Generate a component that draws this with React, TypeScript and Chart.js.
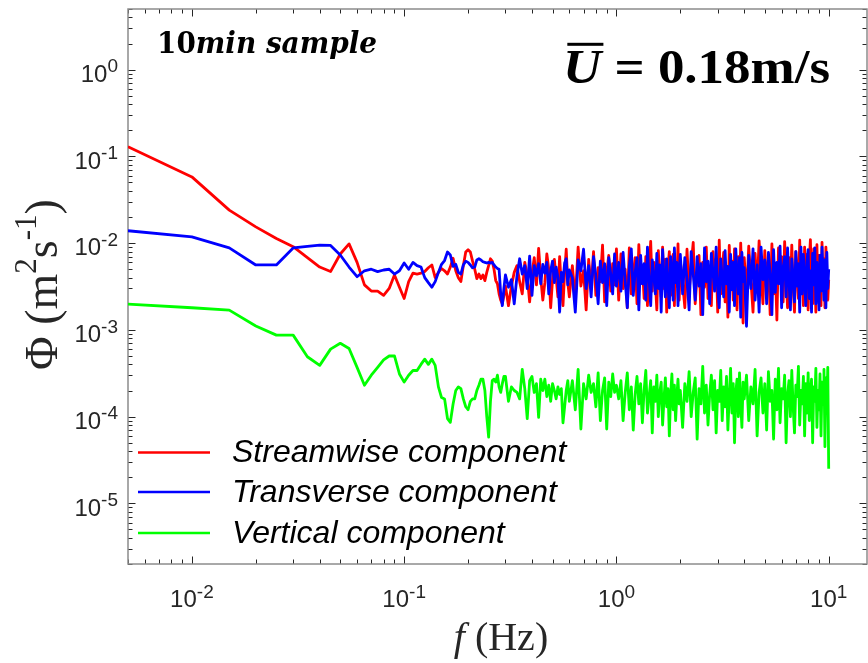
import React, { useEffect, useRef } from "react";
import { Chart, registerables } from "chart.js";

Chart.register(...registerables);

// ---------- frequencies (Hz) ----------
const freqLow = [0.005, 0.01, 0.015, 0.02, 0.025, 0.03, 0.035, 0.04, 0.045, 0.05, 0.055, 0.06, 0.065, 0.07, 0.075, 0.08, 0.085, 0.09, 0.095, 0.1, 0.105, 0.11, 0.115, 0.12, 0.125, 0.13, 0.135, 0.14, 0.145, 0.15, 0.155, 0.16, 0.165, 0.17, 0.175, 0.18, 0.185, 0.19, 0.195, 0.2, 0.205, 0.21, 0.215, 0.22, 0.225, 0.23, 0.235, 0.24, 0.245, 0.25, 0.255, 0.26, 0.265, 0.27, 0.275, 0.28, 0.285, 0.29, 0.295, 0.3];
const freqMid = [0.31, 0.32, 0.33, 0.34, 0.35, 0.36, 0.37, 0.38, 0.39, 0.4, 0.41, 0.42, 0.43, 0.44, 0.45, 0.46, 0.47, 0.48, 0.49, 0.5, 0.51, 0.52, 0.53, 0.54, 0.55, 0.56, 0.57, 0.58, 0.59, 0.6,
  0.62, 0.64, 0.66, 0.68, 0.7, 0.72, 0.74, 0.76, 0.78, 0.8, 0.82, 0.84, 0.86, 0.88, 0.9, 0.92, 0.94, 0.96, 0.98, 1.0];
const freqHigh = [1.025, 1.05, 1.075, 1.1, 1.125, 1.15, 1.175, 1.2, 1.225, 1.25, 1.275, 1.3, 1.325, 1.35, 1.375, 1.4, 1.425, 1.45, 1.475, 1.5, 1.525, 1.55, 1.575, 1.6, 1.625, 1.65, 1.675, 1.7, 1.725, 1.75, 1.775, 1.8, 1.825, 1.85, 1.875, 1.9, 1.925, 1.95, 1.975, 2.0,
  2.05, 2.1, 2.15, 2.2, 2.25, 2.3, 2.35, 2.4, 2.45, 2.5, 2.55, 2.6, 2.65, 2.7, 2.75, 2.8, 2.85, 2.9, 2.95, 3.0, 3.05, 3.1, 3.15, 3.2, 3.25, 3.3, 3.35, 3.4, 3.45, 3.5, 3.55, 3.6, 3.65, 3.7, 3.75, 3.8, 3.85, 3.9, 3.95, 4.0,
  4.1, 4.2, 4.3, 4.4, 4.5, 4.6, 4.7, 4.8, 4.9, 5.0, 5.1, 5.2, 5.3, 5.4, 5.5, 5.6, 5.7, 5.8, 5.9, 6.0, 6.1, 6.2, 6.3, 6.4, 6.5, 6.6, 6.7, 6.8, 6.9, 7.0, 7.1, 7.2, 7.3, 7.4, 7.5, 7.6, 7.7, 7.8, 7.9, 8.0, 8.1, 8.2, 8.3, 8.4, 8.5, 8.6, 8.7, 8.8, 8.9, 9.0, 9.1, 9.2, 9.3, 9.4, 9.5, 9.6, 9.7, 9.8, 9.9, 10.0];

// ---------- Streamwise component (values in 1e-3 m^2 s^-1) ----------
const streamwiseLow = [129, 58, 24, 15.4, 11.3, 9.1, 6.8, 5.3, 4.7, 7.5, 9.8, 6.0, 3.3, 2.8, 2.8, 2.5, 3.0, 4.3, 3.1, 2.3, 3.6, 4.5, 4.4, 4.5, 4.7, 5.2, 5.6, 4.0, 4.6, 5.1, 4.8, 4.4, 5.3, 6.7, 4.8, 4.0, 3.6, 5.5, 7.9, 8.4, 7.9, 6.2, 5.0, 3.9, 4.4, 3.9, 4.3, 3.7, 4.6, 5.5, 6.6, 6.2, 5.0, 3.7, 3.4, 2.6, 2.2, 2.0, 2.5, 3.2];
const streamwiseMid = [1.9, 3.2, 4.6, 5.5, 3.6, 2.6, 6.0, 4.2, 2.1, 4.4, 6.8, 3.3, 8.7, 4.0, 2.2, 3.5, 7.5, 5.0, 1.8, 3.8, 6.5, 4.0, 2.4, 7.0, 3.1, 1.9, 4.5, 8.5, 3.5, 2.4,
  5.5, 2.2, 9.0, 3.2, 4.8, 1.7, 6.5, 3.0, 8.0, 2.5, 5.2, 3.6, 9.5, 2.1, 4.6, 7.2, 2.8, 5.8, 3.3, 8.6];
const streamwiseHigh = [2.2, 7.5, 3.0, 5.0, 1.8, 8.8, 2.6, 4.4, 6.8, 2.0, 9.6, 3.4, 5.5, 2.3, 7.0, 1.9, 4.8, 10.5, 2.8, 6.0, 3.6, 1.7, 8.2, 4.2, 2.4, 9.0, 3.0, 6.5, 1.6, 5.2, 8.0, 2.5, 4.0, 7.4, 1.9, 5.8, 3.2, 9.8, 2.2, 6.2,
  3.5, 1.8, 8.5, 2.7, 5.6, 10.2, 2.0, 4.4, 7.2, 1.5, 6.0, 3.1, 9.0, 2.3, 5.0, 1.9, 8.0, 3.6, 6.6, 1.6, 10.8, 2.6, 4.8, 7.8, 2.1, 5.4, 1.4, 9.4, 3.0, 6.2, 2.2, 8.6, 4.0, 1.7, 7.0, 2.8, 10.0, 3.4, 1.2, 6.8,
  2.4, 9.2, 3.8, 1.6, 7.6, 2.9, 10.6, 4.5, 2.0, 8.2, 3.3, 6.4, 1.5, 9.8, 2.6, 5.6, 1.3, 8.8, 3.6, 7.0, 2.1, 10.4, 4.2, 1.8, 6.8, 2.7, 9.5, 3.1, 1.6, 8.0, 4.8, 2.3, 10.8, 3.5, 5.9, 1.9, 9.0, 2.8, 7.4, 1.7, 6.2, 11.0, 3.0, 2.0, 8.6, 4.4, 1.6, 9.6, 2.5, 7.2, 3.7, 1.9, 10.2, 2.9, 6.6, 1.8, 9.0, 4.0, 2.2, 3.8];

// ---------- Transverse component (values in 1e-3 m^2 s^-1) ----------
const transverseLow = [13.9, 11.8, 8.8, 5.6, 5.6, 8.8, 9.2, 9.5, 9.4, 7.3, 5.3, 4.1, 4.8, 5.0, 4.7, 4.9, 5.0, 4.4, 4.8, 5.9, 5.0, 6.0, 5.5, 5.3, 4.0, 3.5, 3.1, 3.6, 4.6, 5.7, 6.3, 7.9, 7.3, 5.4, 5.7, 4.6, 4.4, 5.6, 6.2, 6.0, 5.6, 5.2, 5.3, 6.4, 6.6, 6.4, 6.1, 6.0, 5.9, 6.0, 5.9, 6.0, 5.6, 5.3, 5.1, 5.0, 2.6, 1.9, 3.0, 4.3];
const transverseMid = [3.1, 3.8, 2.0, 4.2, 6.6, 4.4, 5.5, 3.0, 7.1, 2.5, 5.5, 4.2, 5.8, 3.4, 5.7, 4.5, 6.0, 2.6, 4.8, 6.2, 3.5, 5.3, 4.0, 1.6, 4.6, 3.6, 5.9, 6.6, 3.3, 4.9,
  4.0, 1.6, 6.4, 4.8, 8.5, 3.0, 5.5, 2.4, 7.0, 4.2, 2.0, 6.2, 3.5, 5.8, 1.9, 6.8, 4.4, 2.6, 7.5, 3.2];
const transverseHigh = [6.0, 2.8, 7.8, 3.6, 1.8, 5.5, 8.6, 2.5, 4.6, 6.8, 1.7, 7.2, 3.4, 5.8, 2.2, 9.0, 3.8, 1.9, 6.4, 4.2, 2.6, 7.6, 3.0, 5.6, 1.6, 8.4, 4.0, 2.4, 6.6, 3.2, 1.8, 7.0, 5.0, 2.2, 8.8, 3.5, 6.0, 1.9, 4.8, 7.4,
  2.6, 6.8, 3.8, 1.7, 8.0, 4.4, 2.2, 7.0, 3.2, 5.8, 1.5, 8.8, 3.6, 6.2, 2.0, 7.6, 4.6, 2.8, 9.0, 3.0, 1.8, 6.6, 4.0, 2.4, 8.2, 3.4, 5.4, 1.6, 7.4, 2.9, 6.0, 1.9, 8.6, 4.2, 2.6, 6.8, 1.4, 7.8, 3.6, 5.2,
  1.1, 7.2, 3.0, 8.6, 2.2, 5.6, 1.6, 9.0, 3.8, 6.4, 2.0, 7.8, 4.4, 1.5, 8.4, 2.7, 6.0, 3.4, 9.2, 1.8, 5.2, 7.0, 2.4, 8.8, 3.6, 1.7, 6.6, 4.0, 2.1, 8.0, 3.2, 5.8, 1.6, 9.0, 2.6, 7.4, 3.8, 1.9, 6.2, 8.4, 2.3, 4.8, 1.6, 7.6, 3.3, 8.8, 2.0, 6.0, 3.9, 1.7, 7.2, 2.8, 9.0, 4.2, 2.2, 6.4, 1.8, 7.8, 3.0, 5.0];

// ---------- Vertical component (values in 1e-4 m^2 s^-1) ----------
const verticalLow = [19.8, 18.0, 16.9, 11.1, 8.7, 8.7, 4.9, 3.9, 6.0, 7.0, 6.1, 3.7, 2.3, 3.0, 3.7, 4.5, 5.0, 5.0, 3.1, 2.5, 3.0, 3.4, 3.4, 4.0, 4.6, 4.0, 4.6, 3.9, 2.2, 1.66, 1.6, 0.95, 0.86, 1.4, 2.0, 2.2, 2.1, 1.6, 1.3, 1.2, 1.5, 1.6, 1.6, 2.0, 2.3, 2.7, 2.7, 2.0, 1.0, 0.58, 1.5, 2.6, 2.7, 2.5, 3.0, 2.2, 1.9, 2.4, 2.9, 2.9];
const verticalMid = [1.5, 2.2, 2.0, 1.9, 1.6, 3.5, 2.1, 0.95, 2.6, 2.9, 1.9, 2.4, 0.98, 2.7, 2.0, 2.7, 1.7, 2.3, 1.5, 2.4, 2.0, 1.6, 2.2, 1.8, 2.1, 0.85, 1.3, 2.0, 2.6, 1.5,
  2.6, 1.2, 3.5, 0.72, 2.4, 1.6, 3.0, 1.9, 2.4, 1.3, 3.2, 0.9, 2.0, 2.8, 0.72, 2.5, 1.7, 3.1, 1.9, 2.3];
const verticalHigh = [1.6, 2.6, 0.9, 1.9, 3.2, 1.2, 2.2, 0.7, 1.8, 2.9, 1.4, 2.4, 0.85, 2.0, 3.4, 1.1, 1.7, 2.6, 0.65, 2.2, 1.5, 3.0, 1.0, 1.9, 2.5, 0.8, 1.6, 2.8, 1.3, 2.1, 0.6, 1.8, 3.1, 1.2, 2.3, 0.9, 1.7, 2.7, 1.4, 2.0,
  0.75, 2.4, 1.5, 3.3, 1.0, 1.9, 2.8, 0.55, 2.1, 1.4, 3.8, 1.1, 2.3, 0.8, 1.8, 3.0, 1.2, 2.6, 0.65, 2.0, 1.5, 3.4, 0.9, 2.2, 1.3, 2.9, 0.7, 1.7, 3.6, 1.1, 2.4, 0.5, 1.9, 2.7, 1.0, 3.2, 1.4, 0.75, 2.5, 1.6,
  3.0, 0.9, 2.2, 1.4, 3.5, 0.6, 1.9, 2.8, 1.1, 2.4, 0.7, 3.3, 1.5, 2.0, 0.55, 2.7, 1.2, 3.6, 0.85, 2.1, 1.6, 3.0, 0.5, 1.8, 2.6, 1.0, 3.4, 1.3, 0.65, 2.3, 1.7, 3.8, 0.8, 2.0, 1.4, 2.9, 0.6, 2.4, 1.1, 3.2, 0.9, 1.8, 2.7, 0.5, 2.2, 1.5, 3.6, 0.75, 2.0, 1.2, 3.1, 0.6, 2.5, 1.6, 3.5, 0.45, 2.8, 1.3, 3.7, 0.25];

const seriesLabels = ["Streamwise component", "Transverse component", "Vertical component"];
const seriesColors = ["#ff0000", "#0000ff", "#00ff00"];
const seriesOrder = [2, 1, 0];
const xTickExps = [-2, -1, 0, 1];
const yTickExps = [0, -1, -2, -3, -4, -5];
const sampleText = ["10", "min sample"];
const meanSpeedText = ["U", " = 0.18m/s"];

const SANS = '"Liberation Sans", Arial, sans-serif';
const SERIF = '"Liberation Serif", "Times New Roman", serif';
const DSERIF = '"DejaVu Serif", "Liberation Serif", serif';

type Part = { t: string; font: string; dy?: number };

function partsWidth(ctx: CanvasRenderingContext2D, parts: Part[]) {
  let w = 0;
  for (const p of parts) {
    ctx.font = p.font;
    w += ctx.measureText(p.t).width;
  }
  return w;
}
function drawParts(ctx: CanvasRenderingContext2D, parts: Part[], x: number, y: number) {
  let cx = x;
  const starts: number[] = [];
  for (const p of parts) {
    ctx.font = p.font;
    starts.push(cx);
    ctx.fillText(p.t, cx, y + (p.dy || 0));
    cx += ctx.measureText(p.t).width;
  }
  starts.push(cx);
  return starts;
}

function toPoints(f: number[], v: number[], unit: number) {
  const n = Math.min(f.length, v.length);
  const out: { x: number; y: number }[] = [];
  for (let i = 0; i < n; i++) out.push({ x: f[i], y: v[i] * unit });
  return out;
}

const framePlugin = {
  id: "matlabFrame",
  beforeDatasetsDraw(chart: any) {
    const { ctx, chartArea: a, scales } = chart;
    const xs = scales.x;
    const ys = scales.y;
    ctx.save();
    ctx.strokeStyle = "#262626";
    ctx.lineWidth = 1;
    const line = (x1: number, y1: number, x2: number, y2: number) => {
      ctx.beginPath();
      ctx.moveTo(x1, y1);
      ctx.lineTo(x2, y2);
      ctx.stroke();
    };
    let lo = Math.floor(Math.log10(xs.min));
    let hi = Math.ceil(Math.log10(xs.max));
    for (let k = lo; k <= hi; k++) {
      for (let m = 1; m <= 9; m++) {
        const v = m * Math.pow(10, k);
        if (v < xs.min * 0.999 || v > xs.max * 1.001) continue;
        const px = Math.round(xs.getPixelForValue(v)) + 0.5;
        const len = m === 1 ? 7.5 : 4.5;
        line(px, a.bottom, px, a.bottom - len);
        line(px, a.top, px, a.top + len);
      }
    }
    lo = Math.floor(Math.log10(ys.min));
    hi = Math.ceil(Math.log10(ys.max));
    for (let k = lo; k <= hi; k++) {
      for (let m = 1; m <= 9; m++) {
        const v = m * Math.pow(10, k);
        if (v < ys.min * 0.999 || v > ys.max * 1.001) continue;
        const py = Math.round(ys.getPixelForValue(v)) + 0.5;
        const len = m === 1 ? 7.5 : 4.5;
        line(a.left, py, a.left + len, py);
        line(a.right, py, a.right - len, py);
      }
    }
    ctx.strokeStyle = "#8c8c8c";
    ctx.lineWidth = 1.5;
    ctx.strokeRect(a.left, a.top, a.right - a.left, a.bottom - a.top);
    ctx.restore();
  },
  afterDatasetsDraw(chart: any) {
    const { ctx, chartArea: a, scales } = chart;
    const xs = scales.x;
    const ys = scales.y;
    ctx.save();
    ctx.textAlign = "left";
    ctx.textBaseline = "alphabetic";
    ctx.fillStyle = "#262626";
    for (const e of xTickExps) {
      const px = xs.getPixelForValue(Math.pow(10, e));
      const parts: Part[] = [
        { t: "10", font: `24px ${SANS}` },
        { t: String(e), font: `19px ${SANS}`, dy: -9.5 },
      ];
      const w = partsWidth(ctx, parts);
      drawParts(ctx, parts, px - w / 2, a.bottom + 43);
    }
    for (const e of yTickExps) {
      const py = ys.getPixelForValue(Math.pow(10, e));
      const parts: Part[] = [
        { t: "10", font: `24px ${SANS}` },
        { t: String(e), font: `19px ${SANS}`, dy: -9.5 },
      ];
      const w = partsWidth(ctx, parts);
      drawParts(ctx, parts, a.left - 10 - w, py + 12.3);
    }
    ctx.fillStyle = "#262626";
    const xt: Part[] = [
      { t: "f", font: `italic 40px ${SERIF}` },
      { t: " (Hz)", font: `40px ${SERIF}` },
    ];
    const xw = partsWidth(ctx, xt);
    drawParts(ctx, xt, 501 - xw / 2, 650);

    const yt: Part[] = [
      { t: "\u03A6 (m", font: `46px ${SERIF}` },
      { t: "2", font: `31px ${SERIF}`, dy: -21 },
      { t: "s", font: `46px ${SERIF}` },
      { t: "-1", font: `31px ${SERIF}`, dy: -21 },
      { t: ")", font: `46px ${SERIF}` },
    ];
    ctx.save();
    ctx.translate(57, 284.5);
    ctx.rotate(-Math.PI / 2);
    const yw = partsWidth(ctx, yt);
    drawParts(ctx, yt, -yw / 2, 0);
    ctx.restore();

    ctx.fillStyle = "#000000";
    const sp: Part[] = [
      { t: sampleText[0], font: `bold 29px ${DSERIF}` },
      { t: sampleText[1], font: `italic bold 29px ${DSERIF}` },
    ];
    {
      const w = partsWidth(ctx, sp);
      const s = 220 / w;
      ctx.save();
      ctx.translate(157, 53.3);
      ctx.scale(s, 1);
      drawParts(ctx, sp, 0, 0);
      ctx.restore();
    }
    const up: Part[] = [
      { t: meanSpeedText[0], font: `italic bold 49px ${SERIF}` },
      { t: meanSpeedText[1], font: `bold 49px ${SERIF}` },
    ];
    {
      const w = partsWidth(ctx, up);
      const s = 267 / w;
      ctx.save();
      ctx.translate(563, 83.3);
      ctx.scale(s, 1);
      const st = drawParts(ctx, up, 0, 0);
      ctx.fillRect(st[0] + 4, -40.5, st[1] - st[0] - 2, 3);
      ctx.restore();
    }

    const ly = [452.5, 492, 533];
    for (let i = 0; i < seriesLabels.length; i++) {
      ctx.strokeStyle = seriesColors[i];
      ctx.lineWidth = 2.5;
      ctx.beginPath();
      ctx.moveTo(138, ly[i]);
      ctx.lineTo(210, ly[i]);
      ctx.stroke();
      ctx.fillStyle = "#000000";
      ctx.font = `italic 32px ${SANS}`;
      ctx.fillText(seriesLabels[i], 232, ly[i] + 9.5);
    }
    ctx.restore();
  },
};

export default function App() {
  const ref = useRef<HTMLCanvasElement | null>(null);
  useEffect(() => {
    if (!ref.current) return;
    const freq = [...freqLow, ...freqMid, ...freqHigh];
    const streamwise = [...streamwiseLow, ...streamwiseMid, ...streamwiseHigh];
    const transverse = [...transverseLow, ...transverseMid, ...transverseHigh];
    const vertical = [...verticalLow, ...verticalMid, ...verticalHigh];
    const values = [
      toPoints(freq, streamwise, 1e-3),
      toPoints(freq, transverse, 1e-3),
      toPoints(freq, vertical, 1e-4),
    ];
    const chart = new Chart(ref.current, {
      type: "line",
      data: {
        datasets: values.map((d, i) => ({
          label: seriesLabels[i],
          data: d,
          order: seriesOrder[i],
          borderColor: seriesColors[i],
          backgroundColor: seriesColors[i],
          borderWidth: 2.8,
          borderJoinStyle: "round" as const,
          pointRadius: 0,
          tension: 0,
          fill: false,
        })),
      },
      options: {
        responsive: false,
        animation: false,
        events: [],
        layout: { padding: { left: 128, top: 9, right: 1, bottom: 99 } },
        scales: {
          x: { type: "logarithmic", min: 0.005, max: 15.15, display: false },
          y: { type: "logarithmic", min: 2e-6, max: 5, display: false },
        },
        plugins: { legend: { display: false }, tooltip: { enabled: false } },
      },
      plugins: [framePlugin],
    } as any);
    return () => chart.destroy();
  }, []);
  return (
    <div style={{ position: "absolute", left: 0, top: 0, width: 868, height: 663, background: "#ffffff" }}>
      <canvas ref={ref} width={868} height={663} style={{ display: "block", width: 868, height: 663 }} />
    </div>
  );
}
